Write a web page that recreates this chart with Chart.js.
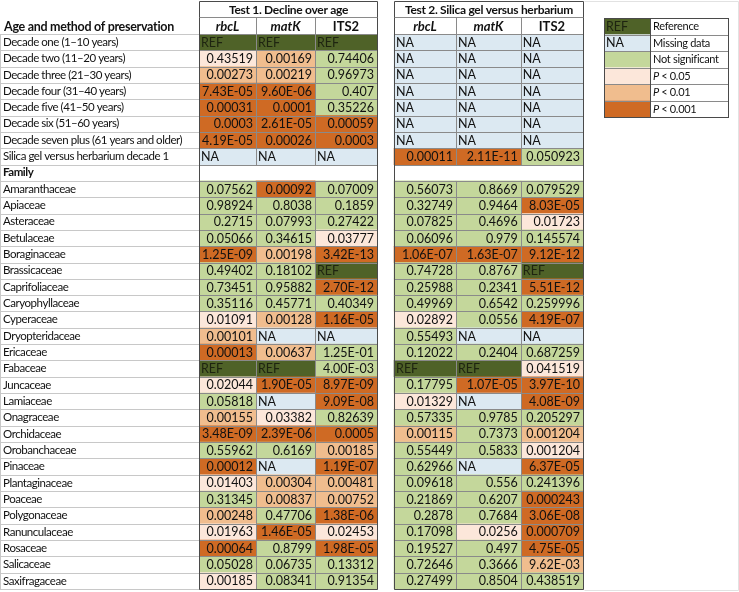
<!DOCTYPE html>
<html><head><meta charset="utf-8">
<script src="https://cdn.jsdelivr.net/npm/chart.js@4"></script>
<style>html,body{margin:0;padding:0;background:#fff}</style>
</head><body>
<canvas id="c" width="739" height="592"></canvas>
<script>
// ---------- DATA ----------
const rowLabels = [
  'Decade one (1\u201310 years)','Decade two (11\u201320 years)','Decade three (21\u201330 years)',
  'Decade four (31\u201340 years)','Decade five (41\u201350 years)','Decade six (51\u201360 years)',
  'Decade seven plus (61 years and older)','Silica gel versus herbarium decade 1','Family',
  'Amaranthaceae','Apiaceae','Asteraceae','Betulaceae','Boraginaceae','Brassicaceae','Caprifoliaceae',
  'Caryophyllaceae','Cyperaceae','Dryopteridaceae','Ericaceae','Fabaceae','Juncaceae','Lamiaceae',
  'Onagraceae','Orchidaceae','Orobanchaceae','Pinaceae','Plantaginaceae','Poaceae','Polygonaceae',
  'Ranunculaceae','Rosaceae','Salicaceae','Saxifragaceae'
];
const testTitles = ['Test 1. Decline over age', 'Test 2. Silica gel versus herbarium'];
const geneLabels = ['rbcL', 'matK', 'ITS2'];

const t1_rbcL = ['REF','0.43519','0.00273','7.43E-05','0.00031','0.0003','4.19E-05','NA','',
  '0.07562','0.98924','0.2715','0.05066','1.25E-09','0.49402','0.73451','0.35116','0.01091','0.00101',
  '0.00013','REF','0.02044','0.05818','0.00155','3.48E-09','0.55962','0.00012','0.01403','0.31345',
  '0.00248','0.01963','0.00064','0.05028','0.00185'];
const t1_rbcL_class = ['REF','p05','p01','p001','p001','p001','p001','NA','',
  'ns','ns','ns','ns','p001','ns','ns','ns','p05','p01',
  'p001','REF','p05','ns','p01','p001','ns','p001','p05','ns',
  'p01','p05','p001','ns','p05'];

const t1_matK = ['REF','0.00169','0.00219','9.60E-06','0.0001','2.61E-05','0.00026','NA','',
  '0.00092','0.8038','0.07993','0.34615','0.00198','0.18102','0.95882','0.45771','0.00128','NA',
  '0.00637','REF','1.90E-05','NA','0.03382','2.39E-06','0.6169','NA','0.00304','0.00837',
  '0.47706','1.46E-05','0.8799','0.06735','0.08341'];
const t1_matK_class = ['REF','p01','p01','p001','p001','p001','p001','NA','',
  'p001','ns','ns','ns','p01','ns','ns','ns','p01','NA',
  'p01','REF','p001','NA','p05','p001','ns','NA','p01','p01',
  'ns','p001','ns','ns','ns'];

const t1_ITS2 = ['REF','0.74406','0.96973','0.407','0.35226','0.00059','0.0003','NA','',
  '0.07009','0.1859','0.27422','0.03777','3.42E-13','REF','2.70E-12','0.40349','1.16E-05','NA',
  '1.25E-01','4.00E-03','8.97E-09','9.09E-08','0.82639','0.0005','0.00185','1.19E-07','0.00481','0.00752',
  '1.38E-06','0.02453','1.98E-05','0.13312','0.91354'];
const t1_ITS2_class = ['REF','ns','ns','ns','ns','p001','p001','NA','',
  'ns','ns','ns','p05','p001','REF','p001','ns','p001','NA',
  'ns','ns','p001','p001','ns','p001','p01','p001','p01','p01',
  'p001','p05','p001','ns','ns'];

const t2_rbcL = ['NA','NA','NA','NA','NA','NA','NA','0.00011','',
  '0.56073','0.32749','0.07825','0.06096','1.06E-07','0.74728','0.25988','0.49969','0.02892','0.55493',
  '0.12022','REF','0.17795','0.01329','0.57335','0.00115','0.55449','0.62966','0.09618','0.21869',
  '0.2878','0.17098','0.19527','0.72646','0.27499'];
const t2_rbcL_class = ['NA','NA','NA','NA','NA','NA','NA','p001','',
  'ns','ns','ns','ns','p001','ns','ns','ns','p05','ns',
  'ns','REF','ns','p05','ns','p01','ns','ns','ns','ns',
  'ns','ns','ns','ns','ns'];

const t2_matK = ['NA','NA','NA','NA','NA','NA','NA','2.11E-11','',
  '0.8669','0.9464','0.4696','0.979','1.63E-07','0.8767','0.2341','0.6542','0.0556','NA',
  '0.2404','REF','1.07E-05','NA','0.9785','0.7373','0.5833','NA','0.556','0.6207',
  '0.7684','0.0256','0.497','0.3666','0.8504'];
const t2_matK_class = ['NA','NA','NA','NA','NA','NA','NA','p001','',
  'ns','ns','ns','ns','p001','ns','ns','ns','ns','NA',
  'ns','REF','p001','NA','ns','ns','ns','NA','ns','ns',
  'ns','p05','ns','ns','ns'];

const t2_ITS2 = ['NA','NA','NA','NA','NA','NA','NA','0.050923','',
  '0.079529','8.03E-05','0.01723','0.145574','9.12E-12','REF','5.51E-12','0.259996','4.19E-07','NA',
  '0.687259','0.041519','3.97E-10','4.08E-09','0.205297','0.001204','0.001204','6.37E-05','0.241396','0.000243',
  '3.06E-08','0.000709','4.75E-05','9.62E-03','0.438519'];
const t2_ITS2_class = ['NA','NA','NA','NA','NA','NA','NA','ns','',
  'ns','p001','p05','ns','p001','REF','p001','ns','p001','NA',
  'ns','p05','p001','p001','ns','p01','p05','p001','ns','p001',
  'p001','p001','p001','p01','ns'];

const legendKeys = ['REF','NA','ns','p05','p01','p001'];
const legendLabels = ['Reference','Missing data','Not significant','< 0.05','< 0.01','< 0.001'];

// ---------- STYLE / LAYOUT ----------
const palette = {REF:'#4f6228', NA:'#dce9f2', ns:'#c4d79b', p05:'#fce7da', p01:'#f0bd8e', p001:'#cf6a24', '':'rgba(0,0,0,0)'};
const colEdges = [[0,0.935],[0.935,1.903],[1.903,2.92],[3.20,4.216],[4.216,5.28],[5.28,6.30]];
const FONT = 'Lato, "Open Sans", sans-serif';

const columns = [
  {v:t1_rbcL, c:t1_rbcL_class}, {v:t1_matK, c:t1_matK_class}, {v:t1_ITS2, c:t1_ITS2_class},
  {v:t2_rbcL, c:t2_rbcL_class}, {v:t2_matK, c:t2_matK_class}, {v:t2_ITS2, c:t2_ITS2_class}
];
const familyIdx = rowLabels.indexOf('Family');

const datasets = columns.map((col, j) => ({
  label: (j < 3 ? 'Test 1 ' : 'Test 2 ') + geneLabels[j % 3],
  data: col.c.map(cl => cl ? [colEdges[j][0], colEdges[j][1]] : null),
  backgroundColor: col.c.map(cl => palette[cl]),
  borderWidth: 0,
  borderSkipped: false,
  barPercentage: 1,
  categoryPercentage: 1,
  grouped: false
}));

const P = v => Math.round(v) + 0.5;
const LS = (ctx, v) => { if ('letterSpacing' in ctx) ctx.letterSpacing = v; };

const spacingPlugin = {
  id: 'spacingPlugin',
  beforeDraw(chart) { LS(chart.ctx, '-0.45px'); },
  beforeDatasetsDraw(chart) { LS(chart.ctx, '0px'); }
};

const tablePlugin = {
  id: 'tablePlugin',
  afterDatasetsDraw(chart) {
    const ctx = chart.ctx, xs = chart.scales.x, ys = chart.scales.y, ca = chart.chartArea;
    const rh = ys.getPixelForValue(1) - ys.getPixelForValue(0);
    const top = i => ys.getPixelForValue(i) - rh / 2;
    ctx.save();
    LS(ctx, '0px');
    ctx.lineWidth = 1;
    // label column row lines
    ctx.strokeStyle = '#c8c8c8';
    for (let i = 0; i <= rowLabels.length; i++) {
      const y = P(top(i));
      ctx.beginPath(); ctx.moveTo(0, y); ctx.lineTo(ca.left, y); ctx.stroke();
    }
    ctx.beginPath(); ctx.moveTo(0.5, P(top(0))); ctx.lineTo(0.5, P(top(rowLabels.length))); ctx.stroke();

    // cells
    const groups = [[0,1,2],[3,4,5]];
    groups.forEach(g => {
      const gl = P(xs.getPixelForValue(colEdges[g[0]][0]));
      const gr = P(xs.getPixelForValue(colEdges[g[2]][1]));
      ctx.strokeStyle = '#8a8a8a';
      for (let i = 0; i <= rowLabels.length; i++) {
        const y = P(top(i));
        ctx.beginPath(); ctx.moveTo(gl, y); ctx.lineTo(gr, y); ctx.stroke();
      }
      g.forEach((j, k) => {
        if (k === 0) return;
        const x = P(xs.getPixelForValue(colEdges[j][0]));
        for (let i = 0; i < rowLabels.length; i++) {
          if (i === familyIdx) continue;
          ctx.beginPath(); ctx.moveTo(x, P(top(i))); ctx.lineTo(x, P(top(i + 1))); ctx.stroke();
        }
      });
      ctx.strokeStyle = '#4a4a4a';
      [gl, gr].forEach(x => {
        ctx.beginPath(); ctx.moveTo(x, 1.5); ctx.lineTo(x, P(top(rowLabels.length))); ctx.stroke();
      });
      ctx.beginPath(); ctx.moveTo(gl, P(top(rowLabels.length))); ctx.lineTo(gr, P(top(rowLabels.length))); ctx.stroke();
    });

    // cell text
    ctx.textBaseline = 'middle';
    ctx.fillStyle = '#111';
    ctx.font = '12.5px ' + FONT;
    columns.forEach((col, j) => {
      const l = xs.getPixelForValue(colEdges[j][0]);
      const r = xs.getPixelForValue(colEdges[j][1]);
      col.v.forEach((txt, i) => {
        if (!txt) return;
        const y = ys.getPixelForValue(i) + 0.5;
        if (txt === 'REF' || txt === 'NA') {
          ctx.textAlign = 'left';
          ctx.fillStyle = txt === 'REF' ? '#1e2410' : '#111';
          ctx.fillText(txt, l + 2, y);
        } else {
          ctx.textAlign = 'right';
          ctx.fillStyle = '#111';
          ctx.fillText(txt, r - 3, y);
        }
      });
    });

    // header
    const hTop = 1.5, hMid = 17.5, hBot = P(top(0));
    groups.forEach((g, gi) => {
      const gl = P(xs.getPixelForValue(colEdges[g[0]][0]));
      const gr = P(xs.getPixelForValue(colEdges[g[2]][1]));
      ctx.strokeStyle = '#4a4a4a';
      ctx.beginPath(); ctx.moveTo(gl, hTop); ctx.lineTo(gr, hTop); ctx.stroke();
      ctx.strokeStyle = '#8a8a8a';
      ctx.beginPath(); ctx.moveTo(gl, hMid); ctx.lineTo(gr, hMid); ctx.stroke();
      g.forEach((j, k) => {
        if (k === 0) return;
        const x = P(xs.getPixelForValue(colEdges[j][0]));
        ctx.beginPath(); ctx.moveTo(x, hMid); ctx.lineTo(x, hBot); ctx.stroke();
      });
      ctx.fillStyle = '#111';
      ctx.textAlign = 'center';
      ctx.font = 'bold 12px ' + FONT;
      LS(ctx, '-0.3px');
      ctx.fillText(testTitles[gi], (gl + gr) / 2, 10);
      LS(ctx, '0px');
      g.forEach((j, k) => {
        const l = xs.getPixelForValue(colEdges[j][0]);
        const r = xs.getPixelForValue(colEdges[j][1]);
        ctx.font = (k < 2 ? 'italic ' : '') + 'bold 13px ' + FONT;
        ctx.fillText(geneLabels[k], (l + r) / 2, 26.5);
      });
    });
    ctx.textAlign = 'left';
    ctx.font = 'bold 12.5px ' + FONT;
    LS(ctx, '-0.3px');
    ctx.fillText('Age and method of preservation', 4, 26.5);
    LS(ctx, '0px');

    // legend
    const lx = 604, lw = 124, sw = 46, ly = 18, lh = 16.5;
    legendKeys.forEach((k, i) => {
      const y0 = ly + i * lh;
      ctx.fillStyle = palette[k];
      ctx.fillRect(lx, y0, sw, lh);
    });
    ctx.strokeStyle = '#8a8a8a';
    for (let i = 0; i <= legendKeys.length; i++) {
      const y = P(ly + i * lh);
      ctx.beginPath(); ctx.moveTo(lx, y); ctx.lineTo(lx + lw, y); ctx.stroke();
    }
    ctx.strokeStyle = '#4a4a4a';
    [lx, lx + sw, lx + lw].forEach(x => {
      ctx.beginPath(); ctx.moveTo(P(x), P(ly)); ctx.lineTo(P(x), P(ly + legendKeys.length * lh)); ctx.stroke();
    });
    ctx.strokeRect(P(lx), P(ly), lw, Math.round(legendKeys.length * lh));
    legendKeys.forEach((k, i) => {
      const yc = ly + i * lh + lh / 2 + 0.5;
      ctx.fillStyle = '#111';
      ctx.textAlign = 'left';
      ctx.font = '12.5px ' + FONT;
      if (k === 'REF' || k === 'NA') {
        ctx.fillStyle = k === 'REF' ? '#1e2410' : '#111';
        ctx.fillText(k, lx + 2, yc);
        ctx.fillStyle = '#111';
      }
      LS(ctx, '-0.3px');
      let tx = lx + sw + 3;
      if (k.startsWith('p')) {
        ctx.font = 'italic 11px ' + FONT;
        ctx.fillText('P', tx, yc);
        tx += ctx.measureText('P ').width;
      }
      ctx.font = '11px ' + FONT;
      ctx.fillText(legendLabels[i], tx, yc);
      LS(ctx, '0px');
    });

    // faint frame on the right
    ctx.strokeStyle = '#e2e2e2';
    ctx.beginPath();
    ctx.moveTo(P(xs.getPixelForValue(colEdges[5][1])) + 1, 1.5); ctx.lineTo(738.5, 1.5); ctx.lineTo(738.5, 590.5);
    ctx.lineTo(P(xs.getPixelForValue(colEdges[5][1])) + 1, 590.5);
    ctx.stroke();
    ctx.restore();
  }
};

new Chart(document.getElementById('c'), {
  type: 'bar',
  data: { labels: rowLabels, datasets },
  options: {
    indexAxis: 'y',
    responsive: false,
    animation: false,
    devicePixelRatio: 1,
    layout: { padding: { left: 3, right: 156, top: 34, bottom: 3 } },
    plugins: { legend: { display: false }, tooltip: { enabled: false }, title: { display: false } },
    scales: {
      x: { type: 'linear', min: 0, max: 6.30, display: false },
      y: {
        type: 'category',
        offset: true,
        grid: { display: false },
        border: { display: false },
        ticks: {
          autoSkip: false,
          crossAlign: 'far',
          padding: 0,
          color: '#111',
          font: c => ({ family: FONT, size: 11.5, weight: c.index === familyIdx ? 'bold' : 'normal' })
        },
        afterFit: s => { s.width = 196; s.paddingTop = 0; s.paddingBottom = 0; }
      }
    }
  },
  plugins: [spacingPlugin, tablePlugin]
});
</script>
</body></html>
